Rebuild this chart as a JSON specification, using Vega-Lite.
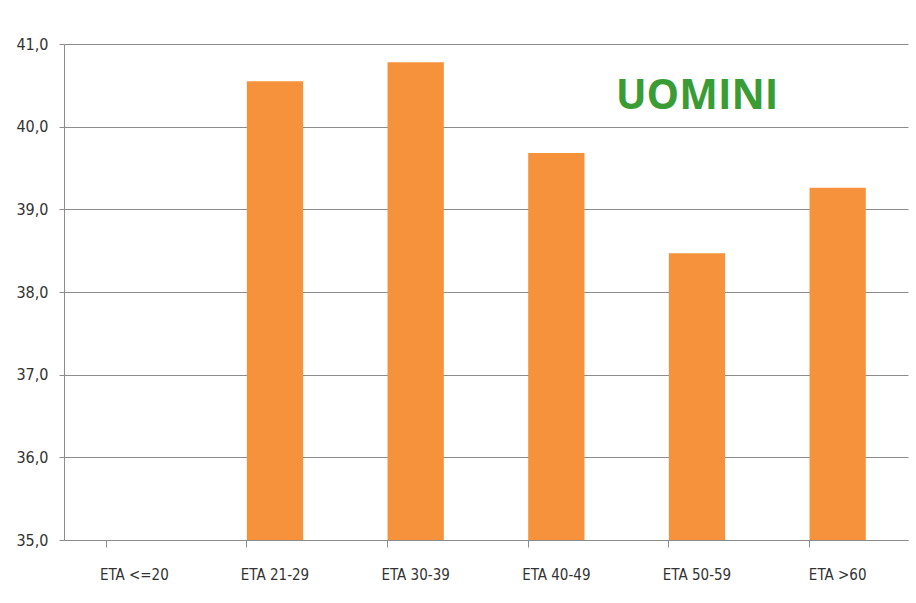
{
  "$schema": "https://vega.github.io/schema/vega-lite/v6.json",
  "width": 844,
  "height": 496,
  "autosize": {"type": "none"},
  "padding": {"left": 64, "top": 44, "right": 8, "bottom": 63},
  "background": "#FFFFFF",
  "config": {
    "locale": {"number": {"decimal": ",", "thousands": ".", "grouping": [3], "currency": ["€", ""]}},
    "view": {"stroke": null},
    "font": "'Liberation Sans Narrow', 'DejaVu Sans Condensed', 'Liberation Sans', sans-serif"
  },
  "datasets": {
    "bars": [
      {"eta": "ETA <=20", "valore": null},
      {"eta": "ETA 21-29", "valore": 40.55},
      {"eta": "ETA 30-39", "valore": 40.78},
      {"eta": "ETA 40-49", "valore": 39.68},
      {"eta": "ETA 50-59", "valore": 38.47},
      {"eta": "ETA >60", "valore": 39.26}
    ],
    "label": [
      {"eta": "ETA 50-59", "valore": 40.36, "testo": "UOMINI"}
    ]
  },
  "encoding": {
    "x": {
      "field": "eta",
      "type": "nominal",
      "sort": null,
      "scale": {
        "domain": ["ETA <=20", "ETA 21-29", "ETA 30-39", "ETA 40-49", "ETA 50-59", "ETA >60"],
        "paddingInner": 0.6,
        "paddingOuter": 0.3
      },
      "axis": {
        "title": null,
        "labelAngle": 0,
        "labelFont": "'Liberation Sans Narrow', 'DejaVu Sans Condensed', 'Liberation Sans', sans-serif",
        "labelFontSize": 15,
        "labelColor": "#333333",
        "labelPadding": 20,
        "tickSize": 7,
        "tickColor": "#8C8C8C",
        "domainColor": "#8C8C8C",
        "bandPosition": 0,
        "grid": false
      }
    },
    "y": {
      "field": "valore",
      "type": "quantitative",
      "scale": {"domain": [35, 41], "zero": false, "nice": false},
      "axis": {
        "title": null,
        "values": [35, 36, 37, 38, 39, 40, 41],
        "format": ".1f",
        "labelFont": "'Liberation Sans Narrow', 'DejaVu Sans Condensed', 'Liberation Sans', sans-serif",
        "labelFontSize": 16,
        "labelColor": "#333333",
        "labelPadding": 11,
        "tickSize": 5,
        "tickColor": "#8C8C8C",
        "domainColor": "#8C8C8C",
        "grid": true,
        "gridColor": "#8C8C8C",
        "gridOpacity": 1
      }
    }
  },
  "layer": [
    {
      "data": {"name": "bars"},
      "mark": {"type": "bar", "color": "#F7923C", "clip": true}
    },
    {
      "data": {"name": "label"},
      "mark": {
        "type": "text",
        "font": "Open Sans",
        "fontSize": 41,
        "fontWeight": "bold",
        "color": "#3A9C35",
        "baseline": "middle",
        "align": "center"
      },
      "encoding": {"text": {"field": "testo"}}
    }
  ]
}
